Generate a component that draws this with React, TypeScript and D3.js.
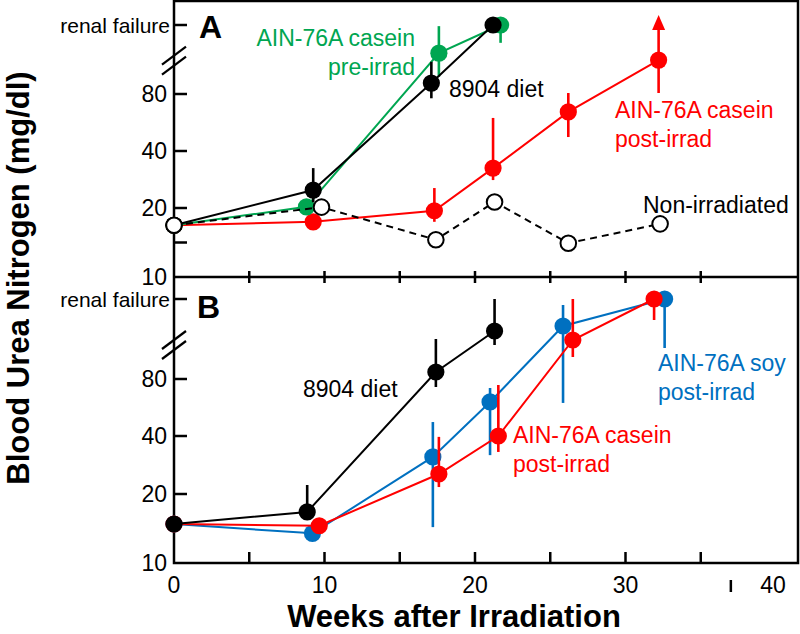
import React from 'react'
import * as d3 from 'd3'

// "renal failure" is drawn as a value above the axis break
const RF = 200

// x axis
const xTicks = [5, 10, 15, 20, 25, 30, 35]
const xLabels = [0, 10, 20, 30, 40]
// y axis
const yLabelsA = [80, 40, 20, 10]
const yTicksA = [80, 40, 20, 15]
const yLabelsB = [80, 40, 20, 10]
const yTicksB = [80, 40, 20]

// panel A
const nonIrrWeeks = [0, 9.8, 17.4, 21.3, 26.2, 32.3]
const nonIrrBUN = [17.5, 20.3, 15.4, 22.1, 14.9, 17.7]

const preCaseinWeeks = [0, 8.8, 17.6, 21.7]
const preCaseinBUN = [17.5, 20.4, 151, RF]
const preCaseinLo = [null, null, 110, 169]
const preCaseinHi = [null, null, 198, RF]

const dietAWeeks = [0, 9.25, 17.1, 21.2]
const dietABUN = [17.5, 26.3, 99, RF]
const dietALo = [null, 22, 77, null]
const dietAHi = [null, 34, 136, null]

const postCaseinAWeeks = [0, 9.25, 17.3, 21.2, 26.2, 32.2]
const postCaseinABUN = [17.5, 18.0, 19.6, 34, 67.4, 139]
const postCaseinALo = [null, null, 18, 29.8, 49.8, 81.7]
const postCaseinAHi = [null, null, 27, 63.2, 81.7, RF]

// panel B
const dietBWeeks = [0, 8.85, 17.4, 21.3]
const dietBBUN = [15.65, 17.4, 90.5, 152]
const dietBLo = [null, 17.4, 74.4, 131]
const dietBHi = [null, 23.1, 140, RF]

const soyWeeks = [0, 9.2, 17.2, 21.0, 25.85, 32.6]
const soyBUN = [15.65, 14.3, 32.8, 63.9, 159.5, RF]
const soyLo = [null, null, 15.2, 33.4, 63.2, 126.5]
const soyHi = [null, null, 49.8, 73.7, 191, RF]

const postCaseinBWeeks = [0, 9.65, 17.6, 21.55, 26.5, 31.9]
const postCaseinBBUN = [15.65, 15.4, 26.9, 40, 138.5, RF]
const postCaseinBLo = [null, null, 22.4, 34.5, 113, 168.5]
const postCaseinBHi = [null, null, 39.7, 75.8, RF, RF]

const GREEN = '#00a651'
const RED = '#ff0000'
const BLUE = '#0070c0'
const BLACK = '#000000'
const FONT = 'Liberation Sans, Arial, Helvetica, sans-serif'

const left = 174
const right = 798
const top = 1
const mid = 277
const bottom = 563

const x = d3.scaleLinear().domain([0, 40]).range([left, 776])
const yDomain = [10, 20, 40, 80, RF]
const yA = d3.scaleLinear().domain(yDomain).range([277, 208, 151, 94, 25])
const yB = d3.scaleLinear().domain(yDomain).range([563, 494, 436, 379, 299])

type Series = {
  weeks: number[]
  bun: number[]
  lo?: (number | null)[]
  hi?: (number | null)[]
  color: string
  open?: boolean
  dashed?: boolean
  arrow?: boolean
}

function Series({ s, y }: { s: Series; y: d3.ScaleLinear<number, number> }) {
  const pts = s.weeks.map((w, i) => [w, s.bun[i]] as [number, number])
  const line = d3.line<[number, number]>().x(d => x(d[0])).y(d => y(d[1]))
  return (
    <g>
      <path d={line(pts) || ''} fill="none" stroke={s.color} strokeWidth={2}
        strokeDasharray={s.dashed ? '7,5' : undefined} />
      {pts.map((p, i) => {
        const lo = s.lo ? s.lo[i] : null
        const hi = s.hi ? s.hi[i] : null
        if (lo == null && hi == null) return null
        const isArrow = s.arrow && i === pts.length - 1
        const y1 = y(hi ?? p[1]) + (isArrow ? 3 : 0)
        return (
          <g key={'e' + i}>
            <line x1={x(p[0])} x2={x(p[0])} y1={y(lo ?? p[1])} y2={y1}
              stroke={s.color} strokeWidth={2.6} />
            {isArrow && (
              <path d={`M${x(p[0]) - 6.5},${y1 + 2} L${x(p[0]) + 6.5},${y1 + 2} L${x(p[0])},${y1 - 13} Z`}
                fill={s.color} />
            )}
          </g>
        )
      })}
      {pts.map((p, i) => (
        <circle key={'c' + i} cx={x(p[0])} cy={y(p[1])} r={s.open ? 7.8 : 8.6}
          fill={s.open ? '#fff' : s.color} stroke={s.open ? BLACK : 'none'} strokeWidth={2} />
      ))}
    </g>
  )
}

function Label({ x0, y0, lines, color, anchor = 'start' }: { x0: number; y0: number; lines: string[]; color: string; anchor?: string }) {
  return (
    <text x={x0} y={y0} fill={color} fontSize={23} fontFamily={FONT} textAnchor={anchor}>
      {lines.map((l, i) => (
        <tspan key={i} x={x0} dy={i === 0 ? 0 : 29}>{l}</tspan>
      ))}
    </text>
  )
}

function YAxis({ y, labels, ticks, extraBreak }: { y: d3.ScaleLinear<number, number>; labels: number[]; ticks: number[]; extraBreak: number }) {
  const yb = y(extraBreak)
  return (
    <g>
      {ticks.map(t => (
        <line key={t} x1={left} x2={left + 13} y1={y(t)} y2={y(t)} stroke={BLACK} strokeWidth={2.5} />
      ))}
      <line x1={left} x2={left + 13} y1={y(RF)} y2={y(RF)} stroke={BLACK} strokeWidth={2.5} />
      {labels.map(t => (
        <text key={t} x={167} y={y(t)} dy="0.36em" textAnchor="end" fontSize={23} fontFamily={FONT}>{t}</text>
      ))}
      <text x={170} y={y(RF)} dy="0.38em" textAnchor="end" fontSize={21} fontFamily={FONT}>renal failure</text>
      {[-5, 5].map(o => (
        <line key={o} x1={left - 12} y1={yb + o + 9} x2={left + 12} y2={yb + o - 9}
          stroke={BLACK} strokeWidth={2.2} />
      ))}
    </g>
  )
}

export default function App() {
  const panelA: Series[] = [
    { weeks: postCaseinAWeeks, bun: postCaseinABUN, lo: postCaseinALo, hi: postCaseinAHi, color: RED, arrow: true },
    { weeks: preCaseinWeeks, bun: preCaseinBUN, lo: preCaseinLo, hi: preCaseinHi, color: GREEN },
    { weeks: dietAWeeks, bun: dietABUN, lo: dietALo, hi: dietAHi, color: BLACK },
    { weeks: nonIrrWeeks, bun: nonIrrBUN, color: BLACK, open: true, dashed: true },
  ]
  const panelB: Series[] = [
    { weeks: soyWeeks, bun: soyBUN, lo: soyLo, hi: soyHi, color: BLUE },
    { weeks: postCaseinBWeeks, bun: postCaseinBBUN, lo: postCaseinBLo, hi: postCaseinBHi, color: RED },
    { weeks: dietBWeeks, bun: dietBBUN, lo: dietBLo, hi: dietBHi, color: BLACK },
  ]
  return (
    <svg width={800} height={634} style={{ position: 'absolute', left: 0, top: 0, background: '#fff' }}>
      {/* frame */}
      <rect x={left} y={top} width={right - left} height={bottom - top} fill="none" stroke={BLACK} strokeWidth={2.5} />
      <line x1={left} x2={right} y1={mid} y2={mid} stroke={BLACK} strokeWidth={2.5} />
      {xTicks.map(t => (
        <g key={t}>
          <line x1={x(t)} x2={x(t)} y1={mid - 6} y2={mid + 6} stroke={BLACK} strokeWidth={2.5} />
          <line x1={x(t)} x2={x(t)} y1={bottom} y2={bottom - 11} stroke={BLACK} strokeWidth={2.5} />
        </g>
      ))}
      {xLabels.map(t => (
        <text key={t} x={x(t) - (t === 40 ? 3 : 0)} y={593} textAnchor="middle" fontSize={23} fontFamily={FONT}>{t}</text>
      ))}
      <line x1={x(37)} x2={x(37)} y1={580} y2={592} stroke={BLACK} strokeWidth={2.5} />

      <YAxis y={yA} labels={yLabelsA} ticks={yTicksA} extraBreak={138} />
      <YAxis y={yB} labels={yLabelsB} ticks={yTicksB} extraBreak={131} />

      <text x={199} y={38} fontSize={32} fontWeight="bold" fontFamily={FONT}>A</text>
      <text x={197} y={318} fontSize={32} fontWeight="bold" fontFamily={FONT}>B</text>

      {panelA.map((s, i) => <Series key={i} s={s} y={yA} />)}
      {panelB.map((s, i) => <Series key={i} s={s} y={yB} />)}

      <Label x0={415} y0={46} lines={['AIN-76A casein', 'pre-irrad']} color={GREEN} anchor="end" />
      <Label x0={449} y0={97} lines={['8904 diet']} color={BLACK} />
      <Label x0={615} y0={118} lines={['AIN-76A casein', 'post-irrad']} color={RED} />
      <Label x0={643} y0={213} lines={['Non-irradiated']} color={BLACK} />

      <Label x0={303} y0={397} lines={['8904 diet']} color={BLACK} />
      <Label x0={658} y0={371} lines={['AIN-76A soy', 'post-irrad']} color={BLUE} />
      <Label x0={513} y0={443} lines={['AIN-76A casein', 'post-irrad']} color={RED} />

      <text x={454} y={627} textAnchor="middle" fontSize={31} fontWeight="bold" fontFamily={FONT}>Weeks after Irradiation</text>
      <text transform="translate(29,278) rotate(-90)" textAnchor="middle" fontSize={31} fontWeight="bold" fontFamily={FONT}>Blood Urea Nitrogen (mg/dl)</text>
    </svg>
  )
}
